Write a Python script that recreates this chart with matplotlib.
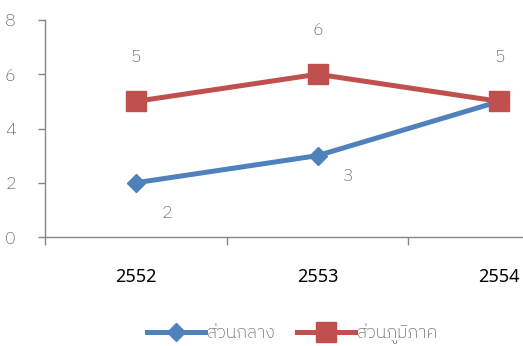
import matplotlib
matplotlib.use("Agg")
import matplotlib.pyplot as plt
import numpy as np

plt.rcParams['font.family'] = ['Noto Sans Thai', 'DejaVu Sans']

years = ['2552', '2553', '2554']
central = [2, 3, 5]
regional = [5, 6, 5]
series_names = ['ส่วนกลาง', 'ส่วนภูมิภาค']

blue = '#4F81BD'
red = '#C0504D'
gray_txt = '#595959'
axis_col = '#868686'
light_font = ['IBM Plex Sans Thai', 'Noto Sans Thai', 'DejaVu Sans']

fig = plt.figure(figsize=(5.23, 3.46), dpi=100)
ax = fig.add_axes([45 / 523, 1 - 237 / 346, 1 - 45 / 523, 217 / 346])

x = np.arange(len(years))
ax.plot(x, central, color=blue, lw=3.6, marker='D', ms=9,
        label=series_names[0], zorder=3)
ax.plot(x, regional, color=red, lw=3.6, marker='s', ms=14,
        label=series_names[1], zorder=4)

ax.set_xlim(-0.5, 2.13)
ax.set_ylim(0, 8)
ax.set_yticks([0, 2, 4, 6, 8])

# category boundaries carry the tick marks, labels sit at category centres
ax.set_xticks([-0.5, 0.5, 1.5], minor=False)
ax.set_xticklabels([])
ax.set_xticks(x, minor=True)
ax.set_xticklabels(years, minor=True)
ax.tick_params(axis='x', which='major', length=6, color=axis_col, width=1, direction='out')
ax.tick_params(axis='x', which='minor', length=0, pad=22, labelsize=13, labelcolor='black')
ax.tick_params(axis='y', length=5, color=axis_col, width=1, pad=16,
               labelsize=13, labelcolor=gray_txt)

for s in ['top', 'right']:
    ax.spines[s].set_visible(False)
for s in ['left', 'bottom']:
    ax.spines[s].set_color(axis_col)
    ax.spines[s].set_linewidth(1)

for lbl in ax.get_yticklabels():
    lbl.set_family(light_font)
    lbl.set_fontweight('light')

# value labels
for xi, v in zip(x, regional):
    ax.annotate(str(v), (xi, v), xytext=(0, 26), textcoords='offset points',
                ha='center', va='bottom', fontsize=13, color=gray_txt,
                family=light_font, fontweight='light')
central_offsets = [(22, -22), (22, -15)]
for xi, v, off in zip(x[:2], central, central_offsets):
    ax.annotate(str(v), (xi, v), xytext=off, textcoords='offset points',
                ha='center', va='center', fontsize=13, color=gray_txt,
                family=light_font, fontweight='light')

leg = fig.legend(loc='center', bbox_to_anchor=(0.56, 0.035), ncol=2, frameon=False,
                 prop={'family': light_font, 'weight': 'light', 'size': 13},
                 handlelength=3.2, handletextpad=0.1, columnspacing=1.2,
                 labelcolor=gray_txt)

fig.savefig('out.png', dpi=100)
